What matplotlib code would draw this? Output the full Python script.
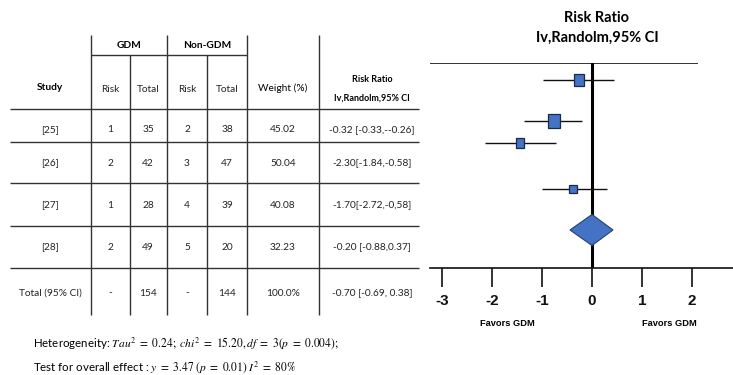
import matplotlib
matplotlib.use("Agg")
import matplotlib.pyplot as plt
from matplotlib.patches import Rectangle, Polygon

# ---------------- data ----------------
studies = ["[25]", "[26]", "[27]", "[28]"]
gdm_risk = [1, 2, 1, 2]
gdm_total = [35, 42, 28, 49]
non_risk = [2, 3, 4, 5]
non_total = [38, 47, 39, 20]
weights = [45.02, 50.04, 40.08, 32.23]
rr_text = ["-0.32 [-0.33,--0.26]", "-2.30[-1.84,-0.58]", "-1.70[-2.72,-0,58]", "-0.20 [-0.88,0.37]"]
total_row = ["Total (95% CI)", "-", "154", "-", "144", "100.0%", "-0.70 [-0.69, 0.38]"]

# forest plot values
est = [-0.26, -0.76, -1.44, -0.38]
ci_lo = [-0.98, -1.36, -2.14, -1.00]
ci_hi = [0.44, -0.20, -0.72, 0.30]
pooled = (-0.44, 0.0, 0.42)
xticks = [-3, -2, -1, 0, 1, 2, 3]

# ---------------- layout (pixels) ----------------
W, H = 733, 375
fig = plt.figure(figsize=(W / 100, H / 100), dpi=100)
tab = fig.add_axes([0, 0, 1, 1])
tab.set_xlim(0, W)
tab.set_ylim(H, 0)
tab.axis("off")

FONT = "Lato"
LC = "#333333"
col_x = [50, 110, 148, 187, 227, 283, 372]
vlines_full = [91, 167, 247, 319]
vlines_sub = [130, 207]
row_y = [130, 163, 205, 247, 293]
hline_y = [109, 142, 183, 226, 268]

for x in vlines_full:
    tab.vlines(x, 35, 315, color=LC, lw=1.0)
for x in vlines_sub:
    tab.vlines(x, 55, 315, color=LC, lw=1.0)
tab.hlines(55, 91, 247, color=LC, lw=1.0)
for y in hline_y:
    tab.hlines(y, 10, 419, color=LC, lw=1.0)

fs = 7.3
tab.text(50, 88, "Study", ha="center", va="center", fontsize=fs, fontweight="bold", family=FONT)
tab.text(129, 45, "GDM", ha="center", va="center", fontsize=fs, fontweight="bold", family=FONT)
tab.text(207, 45, "Non-GDM", ha="center", va="center", fontsize=fs, fontweight="bold", family=FONT)
for cx, lab in zip(col_x[1:5], ["Risk", "Total", "Risk", "Total"]):
    tab.text(cx, 90, lab, ha="center", va="center", fontsize=fs, family=FONT, color="#222222")
tab.text(283, 88, "Weight (%)", ha="center", va="center", fontsize=fs, family=FONT)
tab.text(372, 80, "Risk Ratio", ha="center", va="center", fontsize=6.5, fontweight="bold", family=FONT)
tab.text(372, 98, "Iv,Randolm,95% CI", ha="center", va="center", fontsize=6.5, fontweight="bold", family=FONT)

for i in range(len(studies)):
    vals = [studies[i], str(gdm_risk[i]), str(gdm_total[i]), str(non_risk[i]),
            str(non_total[i]), f"{weights[i]:.2f}", rr_text[i]]
    for cx, v in zip(col_x, vals):
        tab.text(cx, row_y[i], v, ha="center", va="center", fontsize=fs, family=FONT, color="#222222")
for cx, v in zip(col_x, total_row):
    tab.text(cx, row_y[4], v, ha="center", va="center", fontsize=fs, family=FONT, color="#222222")

plt.rcParams["mathtext.fontset"] = "stix"
tab.text(33, 343, r"Heterogeneity: $Tau^2\ =\ 0.24;\ chi^2\ =\ 15.20, df\ =\ 3(p\ =\ 0.004);$",
         ha="left", va="center", fontsize=8.3, family=FONT)
tab.text(33, 367, r"Test for overall effect : $y\ =\ 3.47\ (p\ =\ 0.01)\ I^2\ =\ 80\%$",
         ha="left", va="center", fontsize=8.3, family=FONT)

# titles and footer of forest
tab.text(597, 18, "Risk Ratio", ha="center", va="center", fontsize=10.5, fontweight="bold", family=FONT)
tab.text(597, 38, "Iv,Randolm,95% CI", ha="center", va="center", fontsize=10.5, fontweight="bold", family=FONT)
tab.text(507, 323, "Favors GDM", ha="center", va="center", fontsize=6.7, fontweight="bold",
         family="Liberation Sans")
tab.text(669, 323, "Favors GDM", ha="center", va="center", fontsize=6.7, fontweight="bold",
         family="Liberation Sans")

# ---------------- forest axes ----------------
left_px, right_px, top_px, bot_px = 430, 760, 63, 268
zero_px, unit_px = 592, 50.0
ax = fig.add_axes([left_px / W, 1 - bot_px / H, (right_px - left_px) / W, (bot_px - top_px) / H])
ax.set_xlim((left_px - zero_px) / unit_px, (right_px - zero_px) / unit_px)
ax.set_ylim(bot_px, top_px)
ax.patch.set_alpha(0)
for s in ["top", "left", "right"]:
    ax.spines[s].set_visible(False)
ax.spines["bottom"].set_linewidth(1.2)
ax.spines["bottom"].set_color("#111111")
ax.set_yticks([])
ax.set_xticks(xticks)
ax.set_xticklabels([str(t) for t in xticks], fontsize=11, fontweight="bold", family="Liberation Sans")
ax.tick_params(axis="x", direction="out", length=14, width=1.2, pad=5, colors="#111111")

# top line and null line
ax.hlines(top_px, (426 - zero_px) / unit_px, (698 - zero_px) / unit_px, color="#111111", lw=1.2)
ax.axvline(0, color="#000000", lw=2.2)

study_y = [80, 121, 143, 189]
box_color = "#4472C4"
for e, lo, hi, w, y in zip(est, ci_lo, ci_hi, weights, study_y):
    ax.hlines(y, lo, hi, color="#111111", lw=1.0, zorder=2)
    bw = w * 0.22 / unit_px
    bh = w * 0.27
    ax.add_patch(Rectangle((e - bw / 2, y - bh / 2), bw, bh, facecolor=box_color,
                           edgecolor="#1a2a44", lw=0.9, zorder=3))

dy = 230
dh = 15.5
ax.add_patch(Polygon([(pooled[0], dy), (pooled[1], dy - dh), (pooled[2], dy), (pooled[1], dy + dh)],
                     closed=True, facecolor=box_color, edgecolor="#2a3f6a", lw=0.8, zorder=3))

fig.savefig("out.png", dpi=100)
